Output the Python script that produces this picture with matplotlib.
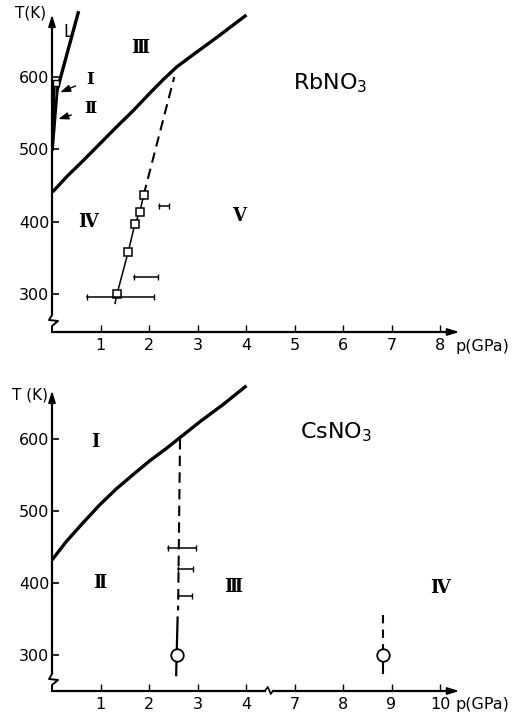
import matplotlib
matplotlib.use('Agg')
import matplotlib.pyplot as plt

# ---------------- RbNO3 (top panel) ----------------
rb_b34_p = [0.01, 0.30, 0.65, 0.99, 1.33, 1.68, 2.02, 2.30, 2.57, 2.91, 3.40, 4.01]   # III / IV boundary
rb_b34_T = [441, 462, 485, 508, 531, 554, 578, 597, 614, 631, 655, 686]
rb_melt_p = [0.11, 0.54]                                        # melting line L
rb_melt_T = [583, 689]
rb_sliver1_p = [0.01, 0.11]                                     # I / II / III wedge
rb_sliver1_T = [500, 583]
rb_sliver2_p = [0.01, 0.05]
rb_sliver2_T = [500, 592]
rb_dash_p = [1.89, 2.52]                                        # extrapolated IV / V
rb_dash_T = [437, 600]
rb_line_p = [1.30, 1.34, 1.57, 1.71, 1.81, 1.89]
rb_line_T = [287, 300, 358, 397, 413, 437]
rb_sq_p = [1.34, 1.57, 1.71, 1.81, 1.89]
rb_sq_T = [300, 358, 397, 413, 437]
rb_tp_p = [0.08]
rb_tp_T = [592]
rb_err_T = [296, 323, 422]
rb_err_lo = [0.72, 1.70, 2.20]
rb_err_hi = [2.10, 2.18, 2.42]

# ---------------- CsNO3 (bottom panel) ----------------
cs_b12_p = [0.0, 0.30, 0.645, 0.99, 1.33, 1.68, 2.02, 2.36, 2.64, 3.05, 3.53, 4.01]
cs_b12_T = [432, 458, 484, 509, 531, 551, 570, 587, 602, 624, 648, 674]
cs_dash_p = [2.64, 2.60]
cs_dash_T = [600, 362]
cs_solid_p = [2.59, 2.56]
cs_solid_T = [352, 272]
cs_circ_p = [2.57, 8.82]
cs_circ_T = [300, 300]
cs_dash2_p = [8.82, 8.82]
cs_dash2_T = [356, 307]
cs_solid2_p = [8.82, 8.82]
cs_solid2_T = [289, 275]
cs_err_T = [449, 419, 382]
cs_err_lo = [2.39, 2.60, 2.60]
cs_err_hi = [2.97, 2.91, 2.88]

x_ticks_top = [1, 2, 3, 4, 5, 6, 7, 8]
x_ticks_bot_val = [1, 2, 3, 4, 7, 8, 9, 10]
y_ticks = [300, 400, 500, 600]

# broken p axis in the CsNO3 panel: values above 4.5 GPa are shifted left by 2
def cs_x(p):
    return [v - 2 if v > 4.5 else v for v in p]

W, H = 516, 714
fig = plt.figure(figsize=(W / 100, H / 100), dpi=100)
roman = ['DejaVu Serif', 'DejaVu Sans']
THICK, THIN = 2.4, 1.1


def make_axes(y_axis_px, tmin, tmax, px_per_k, px_per_gpa=48.5, x0=52):
    top_px = y_axis_px - (tmax - tmin) * px_per_k
    xmax = (470 - x0) / px_per_gpa
    ax = fig.add_axes([x0 / W, 1 - y_axis_px / H, (470 - x0) / W, (y_axis_px - top_px) / H])
    ax.set_xlim(0, xmax)
    ax.set_ylim(tmin, tmax)
    for s in ax.spines.values():
        s.set_visible(False)
    ax.set_yticks(y_ticks)
    ax.tick_params(axis='y', direction='in', length=5, width=1.2, pad=2, labelsize=11.5)
    ax.tick_params(axis='x', direction='in', length=5, width=1.0, pad=4, labelsize=11.5)
    return ax


def draw_frame(ax, tmin, ttop, px_per_k, xbreak=None):
    k = 1 / px_per_k
    g = 1 / 48.5
    # y axis with break
    ax.plot([0, 0], [tmin + 17 * k, ttop - 6 * k], color='k', lw=1.6, clip_on=False, solid_capstyle='butt')
    ax.plot([0, -3 * g, 6 * g, 0, 0],
            [tmin + 17 * k, tmin + 12 * k, tmin + 11 * k, tmin + 6 * k, tmin],
            color='k', lw=1.4, clip_on=False)
    ax.annotate('', xy=(0, ttop), xytext=(0, ttop - 14 * k),
                arrowprops=dict(arrowstyle='-|>,head_length=0.7,head_width=0.22', color='k', lw=1.2),
                annotation_clip=False)
    # x axis
    if xbreak is None:
        ax.plot([0, 8.3], [tmin, tmin], color='k', lw=1.6, clip_on=False)
    else:
        ax.plot([0, xbreak - 4 * g], [tmin, tmin], color='k', lw=1.6, clip_on=False)
        ax.plot([xbreak - 4 * g, xbreak - 1 * g, xbreak + 2 * g, xbreak + 4 * g],
                [tmin, tmin + 4 * k, tmin - 3 * k, tmin], color='k', lw=1.2, clip_on=False)
        ax.plot([xbreak + 4 * g, 8.3], [tmin, tmin], color='k', lw=1.6, clip_on=False)
    ax.annotate('', xy=(8.45, tmin), xytext=(8.2, tmin),
                arrowprops=dict(arrowstyle='-|>,head_length=0.7,head_width=0.22', color='k', lw=1.2),
                annotation_clip=False)
    ax.text(8.31, tmin - 14 * k, 'p(GPa)', fontsize=11.5, ha='left', va='center', clip_on=False)


def hbars(ax, T, lo, hi):
    for t, a, b in zip(T, lo, hi):
        ax.plot([a, b], [t, t], color='k', lw=THIN, marker='|', markersize=5, markeredgewidth=1.0, clip_on=False)


# ---------------- top panel ----------------
k1 = 0.723
tmin1 = 300 - (332 - 294) / k1
tmax1 = 300 + (294 - 6) / k1
ax1 = make_axes(332, tmin1, tmax1, k1)
ax1.set_xticks(x_ticks_top)
ax1.set_xticklabels([str(v) for v in x_ticks_top])
draw_frame(ax1, tmin1, 300 + (294 - 12) / k1, k1)

ax1.plot(rb_b34_p, rb_b34_T, color='k', lw=THICK, solid_capstyle='butt', solid_joinstyle='round')
ax1.plot(rb_melt_p, rb_melt_T, color='k', lw=THICK)
ax1.plot(rb_sliver1_p, rb_sliver1_T, color='k', lw=2.0)
ax1.plot(rb_sliver2_p, rb_sliver2_T, color='k', lw=1.8)
ax1.plot(rb_tp_p, rb_tp_T, 's', ms=5, mfc='white', mec='k', mew=1.0)
ax1.plot(rb_dash_p, rb_dash_T, color='k', lw=1.5, dashes=(5, 3))
ax1.plot(rb_line_p, rb_line_T, color='k', lw=THIN)
ax1.plot(rb_sq_p, rb_sq_T, 's', ms=5.5, mfc='white', mec='k', mew=1.1)
hbars(ax1, rb_err_T, rb_err_lo, rb_err_hi)

ax1.text(-0.45, 300 + (294 - 13) / k1, 'T(K)', fontsize=11, ha='center', va='center', clip_on=False)
ax1.text(0.33, 662, 'L', fontsize=12, ha='center', va='center')
rk = dict(fontsize=13, family=roman, fontweight='bold', ha='center', va='center')
ax1.text(1.81, 640, 'Ⅲ', **rk)
ax1.text(0.75, 400, 'Ⅳ', **rk)
ax1.text(3.86, 408, 'Ⅴ', **rk)
ax1.annotate('Ⅰ', xy=(0.17, 579), xytext=(0.78, 596), fontsize=12, family=roman, fontweight='bold',
             ha='center', va='center',
             arrowprops=dict(arrowstyle='-|>,head_length=0.5,head_width=0.18', color='k', lw=1.0,
                             shrinkA=6, shrinkB=0))
ax1.annotate('Ⅱ', xy=(0.13, 542), xytext=(0.80, 556), fontsize=12, family=roman, fontweight='bold',
             ha='center', va='center',
             arrowprops=dict(arrowstyle='-|>,head_length=0.5,head_width=0.18', color='k', lw=1.0,
                             shrinkA=8, shrinkB=0))
ax1.text(4.97, 592, 'RbNO$_3$', fontsize=16, ha='left', va='center')

# ---------------- bottom panel ----------------
k2 = 0.72
tmin2 = 300 - (691 - 655) / k2
tmax2 = 300 + (655 - 374) / k2
ax2 = make_axes(691, tmin2, tmax2, k2)
ax2.set_xticks(cs_x(x_ticks_bot_val))
ax2.set_xticklabels([str(v) for v in x_ticks_bot_val])
draw_frame(ax2, tmin2, 300 + (655 - 388) / k2, k2, xbreak=4.47)

ax2.plot(cs_b12_p, cs_b12_T, color='k', lw=THICK, solid_capstyle='butt', solid_joinstyle='round')
ax2.plot(cs_dash_p, cs_dash_T, color='k', lw=1.5, dashes=(5, 3))
ax2.plot(cs_solid_p, cs_solid_T, color='k', lw=1.6)
ax2.plot(cs_x(cs_dash2_p), cs_dash2_T, color='k', lw=1.5, dashes=(4, 3))
ax2.plot(cs_x(cs_solid2_p), cs_solid2_T, color='k', lw=1.5)
ax2.plot(cs_x(cs_circ_p), cs_circ_T, 'o', ms=9, mfc='white', mec='k', mew=1.3)
hbars(ax2, cs_err_T, cs_err_lo, cs_err_hi)

ax2.text(-0.45, 300 + (655 - 395) / k2, 'T (K)', fontsize=11, ha='center', va='center', clip_on=False)
ax2.text(0.89, 596, 'Ⅰ', **rk)
ax2.text(0.99, 400, 'Ⅱ', **rk)
ax2.text(3.73, 395, 'Ⅲ', **rk)
ax2.text(cs_x([10.0])[0], 393, 'Ⅳ', **rk)
ax2.text(5.11, 610, 'CsNO$_3$', fontsize=16, ha='left', va='center')

fig.savefig('out.png', dpi=100)
